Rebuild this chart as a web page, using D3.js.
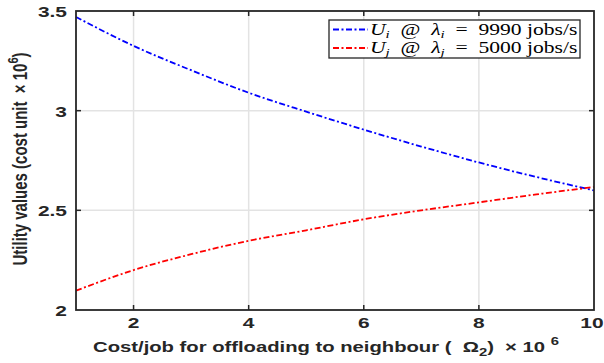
<!DOCTYPE html>
<html>
<head>
<meta charset="utf-8">
<style>
  body { margin: 0; background: #fff; }
  .tick-label { font-family: "Liberation Sans", Arial, sans-serif; font-weight: bold; font-size: 15.5px; fill: #262626; }
  .axis-title { font-family: "Liberation Sans", Arial, sans-serif; font-weight: bold; font-size: 15px; fill: #262626; }
  .legend text { font-family: "Liberation Serif", "DejaVu Serif", serif; font-size: 16px; fill: #000; }
</style>
</head>
<body>
<div id="chart"></div>
<script src="https://d3js.org/d3.v7.min.js"></script>
<script>
  // data
  const costValues = [1, 2, 3, 4, 5, 6, 7, 8, 9, 10];
  const utilityI = [3.47, 3.325, 3.203, 3.09, 2.995, 2.905, 2.82, 2.74, 2.667, 2.60];
  const utilityJ = [2.097, 2.20, 2.28, 2.347, 2.40, 2.455, 2.50, 2.54, 2.58, 2.617];
  const xTicks = [2, 4, 6, 8, 10];
  const yTicks = [2, 2.5, 3, 3.5];

  const width = 604, height = 363;
  const margin = { top: 11, right: 10, bottom: 53, left: 76 };
  const stretch = 1.35; // the original figure is stretched sideways

  const svg = d3.select("#chart").append("svg")
    .attr("width", width)
    .attr("height", height);

  const x = d3.scaleLinear().domain([1, 10]).range([margin.left, width - margin.right]);
  const y = d3.scaleLinear().domain([2, 3.5]).range([height - margin.bottom, margin.top]);

  const x0 = x.range()[0], x1 = x.range()[1];
  const y0 = y.range()[0], y1 = y.range()[1];

  // grid
  const grid = svg.append("g").attr("stroke", "#e3e3e3").attr("stroke-width", 1.5);
  grid.selectAll(".vg").data(xTicks.filter(d => d < 10)).enter().append("line")
    .attr("x1", d => x(d)).attr("x2", d => x(d)).attr("y1", y0).attr("y2", y1);
  grid.selectAll(".hg").data(yTicks.filter(d => d > 2 && d < 3.5)).enter().append("line")
    .attr("y1", d => y(d)).attr("y2", d => y(d)).attr("x1", x0).attr("x2", x1);

  // lines
  const line = data => d3.line()
    .x((d, i) => x(costValues[i]))
    .y(d => y(d))
    .curve(d3.curveMonotoneX)(data);

  svg.append("path").attr("d", line(utilityI))
    .attr("fill", "none").attr("stroke", "#0000ff").attr("stroke-width", 1.8)
    .attr("stroke-dasharray", "6,2.5,2,2.5");
  svg.append("path").attr("d", line(utilityJ))
    .attr("fill", "none").attr("stroke", "#ff0000").attr("stroke-width", 1.8)
    .attr("stroke-dasharray", "6,2.5,2,2.5");

  // axes box
  svg.append("rect")
    .attr("x", x0).attr("y", y1).attr("width", x1 - x0).attr("height", y0 - y1)
    .attr("fill", "none").attr("stroke", "#262626").attr("stroke-width", 1.8);

  // inward ticks
  const ticks = svg.append("g").attr("stroke", "#262626").attr("stroke-width", 1.5);
  xTicks.filter(d => d < 10).forEach(d => {
    ticks.append("line").attr("x1", x(d)).attr("x2", x(d)).attr("y1", y0).attr("y2", y0 - 5);
    ticks.append("line").attr("x1", x(d)).attr("x2", x(d)).attr("y1", y1).attr("y2", y1 + 5);
  });
  yTicks.filter(d => d > 2 && d < 3.5).forEach(d => {
    ticks.append("line").attr("y1", y(d)).attr("y2", y(d)).attr("x1", x0).attr("x2", x0 + 5);
    ticks.append("line").attr("y1", y(d)).attr("y2", y(d)).attr("x1", x1).attr("x2", x1 - 5);
  });

  // tick labels ("10" sits right on the page edge, pull it in a hair)
  svg.selectAll(".xl").data(xTicks).enter().append("text")
    .attr("class", "tick-label")
    .attr("transform", d => `translate(${d === 10 ? x(d) - 2 : x(d)},${y0 + 18}) scale(${stretch},1)`)
    .attr("text-anchor", "middle")
    .text(d => d);
  svg.selectAll(".yl").data(yTicks).enter().append("text")
    .attr("class", "tick-label")
    .attr("transform", d => `translate(${x0 - 9},${y(d) + 6}) scale(${stretch},1)`)
    .attr("text-anchor", "end")
    .text(d => d);

  // x title
  const xt = svg.append("text").attr("class", "axis-title")
    .attr("transform", `translate(326,352) scale(${stretch},1)`)
    .attr("text-anchor", "middle");
  xt.append("tspan").text("Cost/job for offloading to neighbour (\u00a0\u00a0\u03a9");
  xt.append("tspan").attr("dy", 4).style("font-size", "11px").text("2");
  xt.append("tspan").attr("dy", -4).text(")\u00a0\u00a0\u00d7 10\u00a0");
  xt.append("tspan").attr("dy", -7).style("font-size", "11px").text("6");

  // y title
  const yt = svg.append("text").attr("class", "axis-title")
    .attr("transform", `translate(27,159) scale(${stretch},1) rotate(-90)`)
    .attr("text-anchor", "middle");
  yt.append("tspan").text("Utility values (cost unit\u00a0\u00a0\u00d7 10");
  yt.append("tspan").attr("dy", -7).style("font-size", "11px").text("6");
  yt.append("tspan").attr("dy", 7).text(")");

  // legend
  const legend = svg.append("g").attr("class", "legend");
  legend.append("rect")
    .attr("x", 329).attr("y", 20).attr("width", 251).attr("height", 38)
    .attr("fill", "#fff").attr("stroke", "#262626").attr("stroke-width", 1.3);
  const entries = [
    { color: "#0000ff", sub: "i", rest: "9990 jobs/s" },
    { color: "#ff0000", sub: "j", rest: "5000 jobs/s" }
  ];
  entries.forEach((e, i) => {
    const cy = 29.5 + i * 18.5;
    legend.append("line")
      .attr("x1", 333).attr("x2", 368).attr("y1", cy).attr("y2", cy)
      .attr("stroke", e.color).attr("stroke-width", 1.8)
      .attr("stroke-dasharray", "6,2.5,2,2.5");
    const t = legend.append("text")
      .attr("transform", `translate(370,${cy + 5}) scale(${stretch},1)`);
    t.append("tspan").style("font-style", "italic").text("U");
    t.append("tspan").style("font-style", "italic").style("font-size", "11px").attr("dy", 3).text(e.sub);
    t.append("tspan").attr("dy", -3).text("\u00a0\u00a0@\u00a0\u00a0");
    t.append("tspan").style("font-style", "italic").text("\u03bb");
    t.append("tspan").style("font-style", "italic").style("font-size", "11px").attr("dy", 3).text(e.sub);
    t.append("tspan").attr("dy", -3).text("\u00a0\u00a0=\u00a0\u00a0" + e.rest);
  });
</script>
</body>
</html>
